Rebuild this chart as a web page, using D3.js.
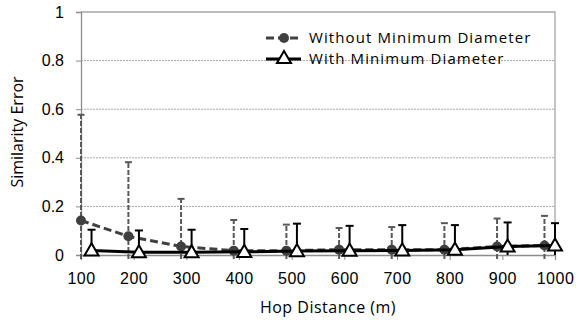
<!DOCTYPE html>
<html>
<head>
<meta charset="utf-8">
<script src="https://cdn.jsdelivr.net/npm/d3@7"></script>
<style>
  body { margin: 0; background: #fff; }
  svg { display: block; font-family: "Open Sans", sans-serif; }
</style>
</head>
<body>
<div id="chart"></div>
<script>
// Series without minimum diameter (x values jittered left of the tick)
var withoutX = [100, 190, 290, 390, 490, 590, 690, 790, 890, 980];
var withoutMean = [0.142, 0.077, 0.035, 0.018, 0.018, 0.022, 0.022, 0.022, 0.035, 0.039];
var withoutErr = [0.435, 0.305, 0.196, 0.126, 0.107, 0.089, 0.093, 0.109, 0.115, 0.122];

// Series with minimum diameter (x values jittered right of the tick)
var withX = [120, 210, 310, 410, 510, 610, 710, 810, 910, 1000];
var withMean = [0.019, 0.011, 0.011, 0.013, 0.016, 0.018, 0.019, 0.022, 0.035, 0.039];
var withErr = [0.085, 0.090, 0.093, 0.094, 0.113, 0.102, 0.104, 0.101, 0.099, 0.092];

var xTicks = [100, 200, 300, 400, 500, 600, 700, 800, 900, 1000];
var yTicks = [0, 0.2, 0.4, 0.6, 0.8, 1];

var width = 576, height = 322;
var margin = { left: 81, right: 21, top: 12, bottom: 67 };

var svg = d3.select('#chart').append('svg')
  .attr('width', width)
  .attr('height', height);

var x = d3.scaleLinear().domain([100, 1000]).range([margin.left, width - margin.right]);
var y = d3.scaleLinear().domain([0, 1]).range([height - margin.bottom, margin.top]);

// gridlines
svg.append('g')
  .selectAll('line')
  .data(yTicks.filter((d) => d > 0 && d < 1))
  .join('line')
  .attr('x1', x(100)).attr('x2', x(1000))
  .attr('y1', (d) => y(d)).attr('y2', (d) => y(d))
  .attr('stroke', '#a6a6a6')
  .attr('stroke-width', 1)
  .attr('stroke-dasharray', '2,1');

// plot border top/right
svg.append('path')
  .attr('d', `M${x(100)},${y(1)}H${x(1000)}V${y(0)}`)
  .attr('fill', 'none')
  .attr('stroke', '#a6a6a6')
  .attr('stroke-width', 1.3);

// y axis
var yAxis = svg.append('g')
  .attr('transform', `translate(${x(100)},0)`)
  .call(d3.axisLeft(y).tickValues(yTicks).tickFormat(d3.format('')).tickSize(5).tickPadding(12));
yAxis.select('.domain').attr('stroke', '#8c8c8c').attr('stroke-width', 1.3);
yAxis.selectAll('.tick line').attr('stroke', '#8c8c8c');
yAxis.selectAll('text').attr('font-size', 16).attr('font-family', null).attr('fill', '#000');

// x axis
var xAxis = svg.append('g')
  .attr('transform', `translate(0,${y(0)})`)
  .call(d3.axisBottom(x).tickValues(xTicks).tickFormat(d3.format('d')).tickSize(5).tickPadding(13));
xAxis.select('.domain').attr('stroke', '#8c8c8c').attr('stroke-width', 1.3);
xAxis.selectAll('.tick line').attr('stroke', '#8c8c8c');
xAxis.selectAll('text').attr('font-size', 16).attr('font-family', null).attr('fill', '#000')
  .attr('letter-spacing', 0.5);

// axis titles
svg.append('text')
  .attr('x', 328).attr('y', 313)
  .attr('text-anchor', 'middle')
  .attr('font-size', 16)
  .attr('letter-spacing', 0.5)
  .text('Hop Distance (m)');

svg.append('text')
  .attr('transform', 'translate(23,132) rotate(-90)')
  .attr('text-anchor', 'middle')
  .attr('font-size', 16)
  .text('Similarity Error');

var clip = svg.append('clipPath').attr('id', 'clip')
  .append('rect')
  .attr('x', 0).attr('y', 0)
  .attr('width', width).attr('height', y(0) + 5);

var plot = svg.append('g').attr('clip-path', 'url(#clip)');

var withoutData = withoutX.map((d, i) => ({ x: d, m: withoutMean[i], e: withoutErr[i] }));
var withData = withX.map((d, i) => ({ x: d, m: withMean[i], e: withErr[i] }));

// error bars, without
var eb1 = plot.append('g').attr('stroke', '#595959').attr('stroke-width', 2);
eb1.selectAll('line.v').data(withoutData).join('line').attr('class', 'v')
  .attr('x1', (d) => x(d.x)).attr('x2', (d) => x(d.x))
  .attr('y1', (d) => y(Math.max(0, d.m - d.e)) + 4).attr('y2', (d) => y(d.m + d.e))
  .attr('stroke-dasharray', '5,2');
eb1.selectAll('line.c').data(withoutData).join('line').attr('class', 'c')
  .attr('x1', (d) => x(d.x) - 3.5).attr('x2', (d) => x(d.x) + 3.5)
  .attr('y1', (d) => y(d.m + d.e)).attr('y2', (d) => y(d.m + d.e));

// line + dots, without
var line = d3.line().x((d) => x(d.x)).y((d) => y(d.m));
plot.append('path').datum(withoutData)
  .attr('d', line)
  .attr('fill', 'none')
  .attr('stroke', '#404040')
  .attr('stroke-width', 3)
  .attr('stroke-dasharray', '8,4');
plot.append('g').selectAll('circle').data(withoutData).join('circle')
  .attr('cx', (d) => x(d.x)).attr('cy', (d) => y(d.m))
  .attr('r', 5)
  .attr('fill', '#404040');

// error bars, with
var eb2 = plot.append('g').attr('stroke', '#000').attr('stroke-width', 2);
eb2.selectAll('line.v').data(withData).join('line').attr('class', 'v')
  .attr('x1', (d) => x(d.x)).attr('x2', (d) => x(d.x))
  .attr('y1', (d) => y(Math.max(0, d.m - d.e))).attr('y2', (d) => y(d.m + d.e));
eb2.selectAll('line.c').data(withData).join('line').attr('class', 'c')
  .attr('x1', (d) => x(d.x) - 4).attr('x2', (d) => x(d.x) + 4)
  .attr('y1', (d) => y(d.m + d.e)).attr('y2', (d) => y(d.m + d.e));

// line + triangles, with
plot.append('path').datum(withData)
  .attr('d', line)
  .attr('fill', 'none')
  .attr('stroke', '#000')
  .attr('stroke-width', 3);

var tri = d3.symbol().type(d3.symbolTriangle).size(85);
plot.append('g').selectAll('path').data(withData).join('path')
  .attr('transform', (d) => `translate(${x(d.x)},${y(d.m) + 1})`)
  .attr('d', tri)
  .attr('fill', '#fff')
  .attr('stroke', '#000')
  .attr('stroke-width', 2);

// legend
var legend = svg.append('g');
var lg1 = legend.append('g').attr('transform', 'translate(0,38)');
lg1.append('line').attr('x1', 266).attr('x2', 301)
  .attr('stroke', '#404040').attr('stroke-width', 3).attr('stroke-dasharray', '8,4');
lg1.append('circle').attr('cx', 284).attr('cy', 0).attr('r', 5).attr('fill', '#404040');
lg1.append('text').attr('x', 309).attr('y', 0).attr('dy', '0.35em')
  .attr('font-size', 15).attr('letter-spacing', 1.1)
  .text('Without Minimum Diameter');

var lg2 = legend.append('g').attr('transform', 'translate(0,59)');
lg2.append('line').attr('x1', 266).attr('x2', 301)
  .attr('stroke', '#000').attr('stroke-width', 3);
lg2.append('path').attr('transform', 'translate(284,0)').attr('d', tri)
  .attr('fill', '#fff').attr('stroke', '#000').attr('stroke-width', 2);
lg2.append('text').attr('x', 309).attr('y', 0).attr('dy', '0.35em')
  .attr('font-size', 15).attr('letter-spacing', 1.1)
  .text('With Minimum Diameter');
</script>
</body>
</html>
